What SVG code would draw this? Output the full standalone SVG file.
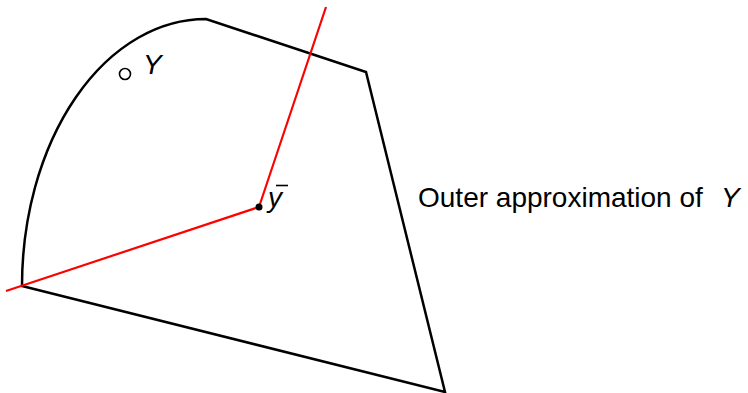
<svg xmlns="http://www.w3.org/2000/svg" width="748" height="393" viewBox="0 0 748 393">
<style>
.blk{fill:none;stroke:#000;stroke-width:2.5;stroke-linejoin:miter}
.red{fill:none;stroke:#ff0000;stroke-width:2.2}
.t{font-family:"Liberation Sans",Arial,sans-serif;font-size:28px;fill:#000}
.it{font-style:italic}
</style>
<rect width="748" height="393" fill="#fff"/>
<g id="region">
<path class="blk" d="M22,286 A184,267 0 0 1 206,19 L366,72 L445,392 Z"/>
</g>
<g id="connectors">
<polyline class="red" points="6,291 259,207 326,7"/>
</g>
<g id="Y-point">
<circle cx="125" cy="74" r="5.5" fill="#fff" stroke="#000" stroke-width="1.6"/>
<text class="t it" x="143" y="74">Y</text>
</g>
<g id="ybar">
<circle cx="259" cy="207" r="3.5" fill="#000"/>
<text class="t it" x="268" y="207">y</text>
<line x1="276" y1="185.5" x2="288" y2="185.5" stroke="#000" stroke-width="1.6"/>
</g>
<g id="label">
<text class="t" x="418" y="207">Outer approximation of</text>
<text class="t it" x="721" y="207">Y</text>
</g>
</svg>
